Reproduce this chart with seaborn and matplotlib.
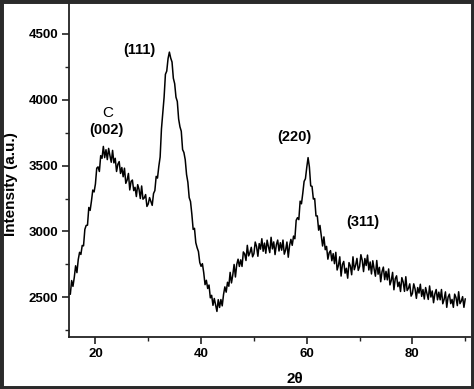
import numpy as np
import pandas as pd
import matplotlib
matplotlib.use("Agg")
import matplotlib.pyplot as plt
import seaborn as sns
from matplotlib.patches import Rectangle
from matplotlib.ticker import MultipleLocator

# scan grid (2theta, degrees) and intensity
two_theta = np.arange(15.0, 90.001, 0.25)
intensity = [
    # 15.00 - 19.75
    2528, 2524, 2628, 2584, 2652, 2740, 2688, 2787, 2842, 2826,
    2894, 2891, 3016, 3046, 3048, 3182, 3160, 3231, 3314, 3300,
    # 20.00 - 24.75
    3360, 3480, 3490, 3455, 3575, 3555, 3645, 3560, 3620, 3545,
    3630, 3575, 3525, 3615, 3520, 3555, 3455, 3510, 3530, 3440,
    # 25.00 - 29.75
    3485, 3415, 3480, 3365, 3390, 3440, 3315, 3380, 3390, 3310,
    3335, 3265, 3355, 3320, 3250, 3345, 3245, 3255, 3280, 3190,
    # 30.00 - 34.75
    3209, 3257, 3227, 3198, 3288, 3310, 3418, 3405, 3494, 3565,
    3778, 3896, 4018, 4192, 4216, 4311, 4360, 4315, 4285, 4162,
    # 35.00 - 39.75
    4121, 4018, 3986, 3853, 3794, 3760, 3621, 3599, 3544, 3432,
    3373, 3257, 3227, 3132, 3016, 3024, 2915, 2877, 2848, 2765,
    # 40.00 - 44.75
    2736, 2756, 2688, 2597, 2630, 2568, 2594, 2497, 2516, 2440,
    2492, 2441, 2394, 2483, 2424, 2484, 2436, 2522, 2580, 2540,
    # 45.00 - 49.75
    2615, 2585, 2690, 2610, 2670, 2750, 2655, 2750, 2790, 2735,
    2785, 2735, 2845, 2830, 2780, 2895, 2815, 2840, 2880, 2808,
    # 50.00 - 54.75
    2832, 2920, 2886, 2812, 2908, 2866, 2945, 2850, 2912, 2835,
    2934, 2884, 2840, 2956, 2868, 2921, 2825, 2900, 2935, 2852,
    # 55.00 - 59.75
    2915, 2858, 2935, 2828, 2860, 2920, 2805, 2895, 2940, 2895,
    2965, 2945, 3085, 3105, 3090, 3230, 3210, 3290, 3380, 3400,
    # 60.00 - 64.75
    3485, 3560, 3489, 3346, 3342, 3246, 3250, 3118, 3118, 3010,
    3046, 2965, 2890, 2959, 2862, 2887, 2790, 2839, 2855, 2778,
    # 65.00 - 69.75
    2832, 2756, 2842, 2708, 2743, 2808, 2662, 2750, 2773, 2684,
    2721, 2646, 2764, 2739, 2672, 2808, 2710, 2744, 2796, 2705,
    # 70.00 - 74.75
    2734, 2824, 2782, 2696, 2795, 2742, 2821, 2708, 2769, 2678,
    2778, 2716, 2661, 2780, 2676, 2728, 2619, 2696, 2730, 2635,
    # 75.00 - 79.75
    2698, 2633, 2716, 2595, 2629, 2690, 2558, 2642, 2664, 2582,
    2616, 2545, 2650, 2617, 2546, 2657, 2552, 2569, 2603, 2510,
    # 80.00 - 84.75
    2530, 2603, 2565, 2493, 2575, 2533, 2600, 2508, 2560, 2488,
    2575, 2528, 2485, 2587, 2503, 2549, 2460, 2527, 2560, 2482,
    # 85.00 - 89.75
    2540, 2482, 2560, 2452, 2485, 2542, 2425, 2502, 2525, 2453,
    2485, 2425, 2525, 2499, 2438, 2543, 2453, 2472, 2506, 2425,
    # 90.00
    2490,
]

# peak annotations
peak_labels = ["(111)", "C", "(002)", "(220)", "(311)"]
peak_label_x = [28.4, 22.3, 22.1, 57.7, 70.6]
peak_label_y = [4377, 3899, 3770, 3717, 3073]
peak_label_weight = ["bold", "normal", "bold", "bold", "bold"]
peak_label_size = [10.5, 11, 10.5, 10.5, 10.5]

x_ticks = [20, 40, 60, 80]
y_ticks = [2500, 3000, 3500, 4000, 4500]

sns.set_style("ticks")
plt.rcParams["font.family"] = ["Liberation Sans", "DejaVu Sans"]
plt.rcParams["text.color"] = "black"
plt.rcParams["xtick.color"] = "black"
plt.rcParams["ytick.color"] = "black"

df = pd.DataFrame({"two_theta": two_theta, "intensity": intensity})

fig = plt.figure(figsize=(4.74, 3.89), dpi=100)
ax = fig.add_axes([69 / 474, 52 / 389, 401 / 474, 335 / 389])

sns.lineplot(data=df, x="two_theta", y="intensity", ax=ax,
             color="black", linewidth=1.1, estimator=None)

ax.set_xlim(15, 90.9)
ax.set_ylim(2200, 4740)
ax.set_xticks(x_ticks)
ax.set_yticks(y_ticks)
ax.xaxis.set_minor_locator(MultipleLocator(10))
ax.yaxis.set_minor_locator(MultipleLocator(250))
ax.tick_params(which="major", direction="out", length=5, width=1.2,
               color="#222222", labelcolor="black", labelsize=9.5, pad=3)
ax.tick_params(which="minor", direction="out", length=3, width=1.0,
               color="#222222")
for lab in ax.get_xticklabels() + ax.get_yticklabels():
    lab.set_fontweight("bold")

for side in ["top", "right"]:
    ax.spines[side].set_visible(False)
for side in ["left", "bottom"]:
    ax.spines[side].set_linewidth(1.3)
    ax.spines[side].set_color("#222222")

ax.set_xlabel("")
ax.set_ylabel("")
fig.text(295 / 474, 1 - 379 / 389, "2θ", ha="center", va="center",
         fontsize=11, fontweight="bold", color="black")
fig.text(11 / 474, 1 - 184 / 389, "Intensity (a.u.)", ha="center", va="center",
         rotation=90, fontsize=11, fontweight="bold", color="black")

for lab, lx, ly, w, s in zip(peak_labels, peak_label_x, peak_label_y,
                              peak_label_weight, peak_label_size):
    ax.text(lx, ly, lab, ha="center", va="center", fontsize=s, fontweight=w,
            color="black")

fig.patches.append(Rectangle((0, 0), 1, 1, transform=fig.transFigure,
                             fill=False, linewidth=5, edgecolor="#2a2a2a",
                             zorder=10))

fig.savefig("out.png", dpi=100)
